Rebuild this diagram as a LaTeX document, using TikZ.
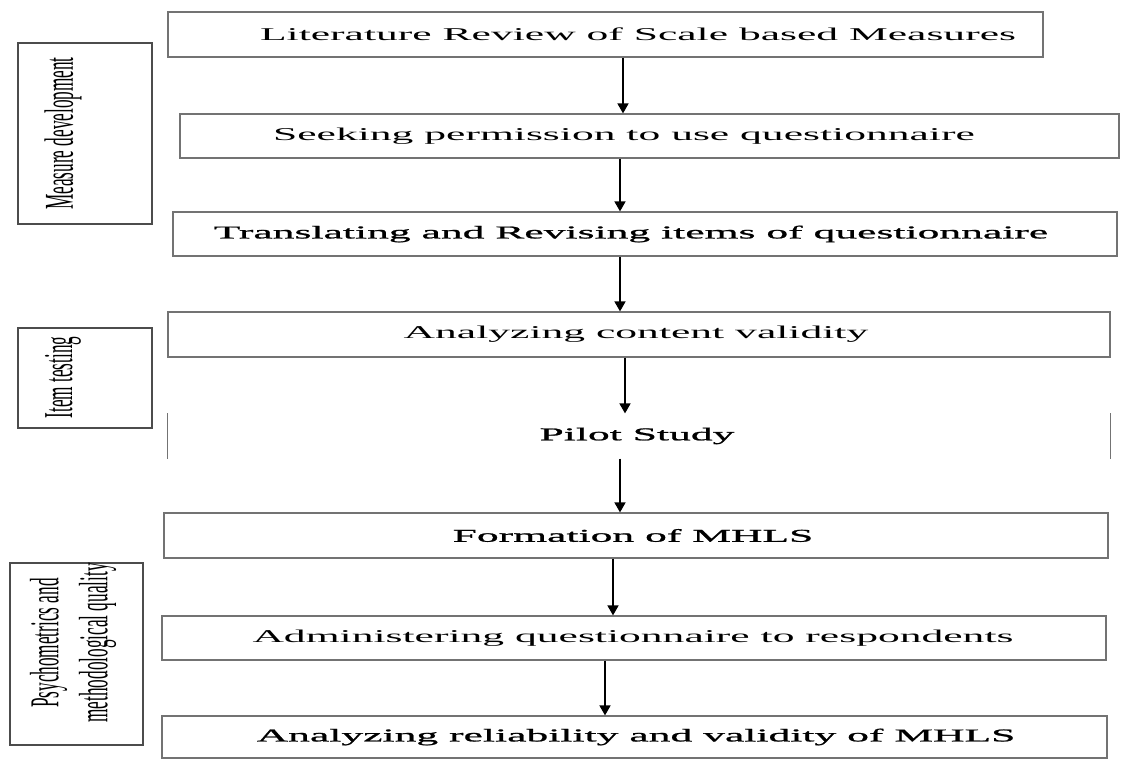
\documentclass[tikz,border=0pt]{standalone}
\usepackage{fontspec}
\setmainfont{Liberation Serif}
\newfontfamily\stepfont[FakeStretch=2.42]{Liberation Serif}
\newfontfamily\stepdarkfont[FakeStretch=2.42, FakeBold=1.2]{Liberation Serif}
\newfontfamily\phasefont[FakeStretch=0.42]{Liberation Serif}
\usetikzlibrary{arrows.meta}
\tikzset{
  stepbox/.style={rectangle, draw=black!55, line width=1.2pt, minimum height=44pt, inner sep=0pt},
  steptext/.style={font=\stepfont\fontsize{18}{20}\selectfont, inner sep=0pt},
  stepdark/.style={steptext, font=\stepdarkfont\fontsize{18}{20}\selectfont},
  phasebox/.style={rectangle, draw=black!70, line width=1.2pt, inner sep=0pt},
  phasetext/.style={font=\phasefont\fontsize{41}{49}\selectfont, rotate=90, align=center, inner sep=0pt},
  flow/.style={-{Triangle[width=11pt,length=10pt]}, line width=1.6pt}
}

\begin{document}
\begin{tikzpicture}[x=1pt, y=-1pt]
  \useasboundingbox (0,0) rectangle (1121,762);

  % steps
  \node[stepbox, minimum width=875pt, minimum height=45pt] (lit) at (605.5,34.5) {};
  \node[steptext] (litT) at (638,34.5) {Literature Review of Scale based Measures};
  \node[stepbox, minimum width=939pt] (perm) at (649.5,136) {};
  \node[steptext] (permT) at (624,136) {Seeking permission to use questionnaire};
  \node[stepbox, minimum width=944pt] (trans) at (645,234) {};
  \node[stepdark] (transT) at (631,234) {Translating and Revising items of questionnaire};
  \node[stepbox, minimum width=942pt, minimum height=45pt] (cont) at (639,334.5) {};
  \node[steptext] (contT) at (636,334.5) {Analyzing content validity};
  \node[stepbox, minimum width=942pt, draw=none] (pilot) at (639,436) {};
  \node[stepdark] (pilotT) at (637,436) {Pilot Study};
  \node[stepbox, minimum width=944pt, minimum height=45pt] (form) at (636,535.5) {};
  \node[stepdark] (formT) at (633,535.5) {Formation of MHLS};
  \node[stepbox, minimum width=944pt] (admin) at (634,638) {};
  \node[steptext] (adminT) at (633,638) {Administering questionnaire to respondents};
  \node[stepbox, minimum width=945pt, minimum height=42pt] (relia) at (634.5,737) {};
  \node[stepdark] (reliaT) at (636,737) {Analyzing reliability and validity of MHLS};

  % pilot box keeps only its sides
  \draw[black!55, line width=1.2pt] (pilot.north west) -- (pilot.south west)
    (pilot.north east) -- (pilot.south east);

  % phases
  \node[phasebox, minimum width=134pt, minimum height=181pt] (measure) at (85,133.5) {};
  \node[phasetext] (measureT) at (63,133.5) {Measure development};
  \node[phasebox, minimum width=134pt, minimum height=100pt] (items) at (85,378) {};
  \node[phasetext] (itemsT) at (63,377.5) {Item testing};
  \node[phasebox, minimum width=133pt, minimum height=182pt] (psych) at (76.5,654) {};
  \node[phasetext] (psychT) at (73,643) {Psychometrics and\\methodological quality};

  % arrows
  \draw[flow] (623,0 |- lit.south) -- (623,0 |- perm.north);
  \draw[flow] (620,0 |- perm.south) -- (620,0 |- trans.north);
  \draw[flow] (620,0 |- trans.south) -- (620,0 |- cont.north);
  \draw[flow] (625,0 |- cont.south) -- (625,0 |- pilot.north);
  \draw[flow] (620,0 |- pilot.south) -- (620,0 |- form.north);
  \draw[flow] (613,0 |- form.south) -- (613,0 |- admin.north);
  \draw[flow] (605,0 |- admin.south) -- (605,0 |- relia.north);
\end{tikzpicture}
\end{document}
